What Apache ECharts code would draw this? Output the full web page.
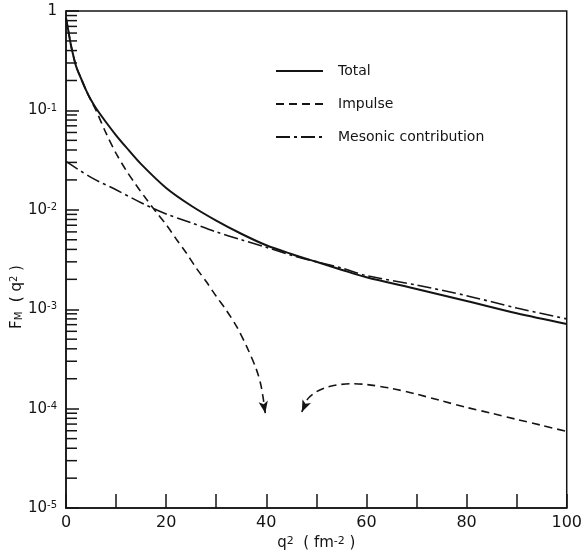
<!DOCTYPE html>
<html>
<head>
<meta charset="utf-8">
<script src="https://cdn.jsdelivr.net/npm/echarts@6/dist/echarts.min.js"></script>
<style>
  html, body { margin: 0; padding: 0; background: #fff; }
  #chart { width: 585px; height: 556px; }
</style>
</head>
<body>
<div id="chart"></div>
<script>
// values (q^2 in fm^-2, F_M on log scale)
let totalQ = [0, 0.5, 1, 2, 3, 4, 5, 6, 8, 10, 12, 15, 20, 25, 30, 35, 40, 45, 50, 55, 60, 70, 80, 90, 100]
let totalF = [0.85, 0.62, 0.45, 0.28, 0.21, 0.16, 0.127, 0.105, 0.076, 0.0562, 0.0427, 0.0288, 0.0166, 0.011, 0.0078, 0.00575, 0.0044, 0.0036, 0.0030, 0.0025, 0.0021, 0.0016, 0.00121, 0.00091, 0.00071]

// impulse: falls to a zero near q^2 ~ 43, drawn as two arrowed branches
let impulseQ1 = [0, 0.5, 1, 2, 3, 4, 5, 6, 8, 10, 12, 14, 16, 18, 20, 22, 24, 26, 28, 30, 32, 34, 36, 38, 39, 39.8]
let impulseF1 = [0.85, 0.62, 0.45, 0.28, 0.21, 0.16, 0.125, 0.1, 0.059, 0.037, 0.025, 0.0178, 0.0129, 0.0095, 0.0071, 0.0051, 0.0037, 0.0026, 0.0019, 0.00135, 0.00098, 0.00068, 0.00043, 0.00025, 0.000166, 0.00009]
let impulseQ2 = [47.1, 48.2, 50, 52, 54, 57, 60, 65, 70, 75, 80, 85, 90, 95, 100]
let impulseF2 = [0.0000925, 0.000124, 0.000148, 0.000164, 0.000173, 0.000178, 0.000175, 0.00016, 0.00014, 0.00012, 0.000103, 0.00009, 0.000078, 0.000068, 0.000059]

let mesonQ = [0, 5, 10, 15, 20, 25, 30, 35, 40, 45, 50, 55, 60, 70, 80, 90, 100]
let mesonF = [0.0307, 0.0212, 0.0159, 0.0118, 0.0091, 0.0074, 0.0060, 0.0050, 0.0042, 0.0035, 0.0030, 0.0026, 0.00218, 0.00175, 0.00137, 0.00103, 0.00080]

let seriesNames = ['Total', 'Impulse', 'Mesonic contribution']
let xTickLabels = [0, 20, 40, 60, 80, 100]
let yTickExps = [0, -1, -2, -3, -4, -5]
let minorMantissa = [2, 3, 4, 5, 6, 7, 8, 9]

let ink = '#141414'

function zip(qs, fs) {
  return qs.map((q, i) => [q, fs[i]])
}

// minor ticks of the log axis (2..9 x 10^k)
let minorTicks = []
yTickExps.slice(1).forEach(e => {
  minorMantissa.forEach(m => minorTicks.push([0, m * Math.pow(10, e)]))
})

let impulseData = zip(impulseQ1, impulseF1)
impulseData[impulseData.length - 1] = {
  value: impulseData[impulseData.length - 1],
  symbol: 'arrow', symbolSize: [7, 12], symbolRotate: 190
}
impulseData.push([43, '-'])
let right = zip(impulseQ2, impulseF2)
right[0] = { value: right[0], symbol: 'arrow', symbolSize: [7, 12], symbolRotate: 156 }
impulseData = impulseData.concat(right)

let chart = echarts.init(document.getElementById('chart'))

let option = {
  backgroundColor: '#fff',
  animation: false,
  textStyle: { fontFamily: 'DejaVu Sans', color: ink },
  grid: {
    left: 66, right: 13, top: 11, bottom: 47,
    show: true, borderColor: ink, borderWidth: 1.5
  },
  legend: {
    data: seriesNames,
    orient: 'vertical',
    left: 275, top: 64, padding: 0,
    itemWidth: 47, itemHeight: 14, itemGap: 19,
    itemStyle: { opacity: 0 },
    textStyle: { fontSize: 14, color: ink, padding: [0, 0, 0, 10], fontFamily: 'DejaVu Sans' }
  },
  xAxis: {
    type: 'value', min: 0, max: 100, interval: 10,
    name: '{i|q}{s|2}{n|  ( fm}{s|-2}{n| )}',
    nameLocation: 'middle', nameGap: 26,
    nameTextStyle: {
      rich: {
        i: { fontSize: 15, color: ink, fontFamily: 'DejaVu Sans' },
        n: { fontSize: 15, color: ink, fontFamily: 'DejaVu Sans' },
        s: { fontSize: 11, color: ink, verticalAlign: 'top', fontFamily: 'DejaVu Sans' }
      }
    },
    axisLine: { lineStyle: { color: ink, width: 1.5 } },
    axisTick: { inside: true, length: 14, lineStyle: { color: ink, width: 1.5 } },
    axisLabel: {
      fontSize: 16, color: ink, margin: 7,
      formatter: v => xTickLabels.indexOf(v) >= 0 ? String(v) : ''
    },
    splitLine: { show: false }
  },
  yAxis: {
    type: 'log', logBase: 10, min: 1e-5, max: 1,
    axisLine: { lineStyle: { color: ink, width: 1.5 } },
    axisTick: { inside: true, length: 13, lineStyle: { color: ink, width: 1.5 } },
    axisLabel: {
      margin: 9,
      formatter: v => {
        let e = Math.round(Math.log10(v))
        if (yTickExps.indexOf(e) < 0) return ''
        return e === 0 ? '{b|1}' : '{b|10}{s|-' + (-e) + '}'
      },
      rich: {
        b: { fontSize: 15, color: ink, fontFamily: 'DejaVu Sans' },
        s: { fontSize: 10, color: ink, verticalAlign: 'top', fontFamily: 'DejaVu Sans' }
      }
    },
    splitLine: { show: false }
  },
  graphic: [{
    type: 'text',
    x: 17, y: 297,
    rotation: Math.PI / 2,
    style: {
      text: '{n|F}{u|M}{n|  ( q}{s|2}{n| )}',
      align: 'center', verticalAlign: 'middle',
      rich: {
        n: { fontSize: 15, fill: ink, fontFamily: 'DejaVu Sans' },
        u: { fontSize: 10, fill: ink, verticalAlign: 'bottom', fontFamily: 'DejaVu Sans' },
        s: { fontSize: 10, fill: ink, verticalAlign: 'top', fontFamily: 'DejaVu Sans' }
      }
    }
  }],
  series: [
    {
      name: 'Total', type: 'line', symbol: 'none', smooth: 0.3,
      lineStyle: { color: ink, width: 2 },
      itemStyle: { color: ink },
      data: zip(totalQ, totalF)
    },
    {
      name: 'Impulse', type: 'line', symbol: 'none', smooth: 0.3,
      connectNulls: false,
      lineStyle: { color: ink, width: 1.6, type: [8, 5] },
      itemStyle: { color: ink },
      data: impulseData
    },
    {
      name: 'Mesonic contribution', type: 'line', symbol: 'none', smooth: 0.3,
      lineStyle: { color: ink, width: 1.6, type: [14, 4, 3, 4] },
      itemStyle: { color: ink },
      data: zip(mesonQ, mesonF)
    },
    {
      name: 'minorTicks', type: 'custom', silent: true,
      encode: { x: 0, y: 1 },
      data: minorTicks,
      renderItem: (params, api) => {
        let p = api.coord([0, api.value(1)])
        return {
          type: 'line',
          shape: { x1: p[0], y1: p[1], x2: p[0] + 11, y2: p[1] },
          style: { stroke: ink, lineWidth: 1.5 }
        }
      }
    }
  ]
}

chart.setOption(option)
</script>
</body>
</html>
